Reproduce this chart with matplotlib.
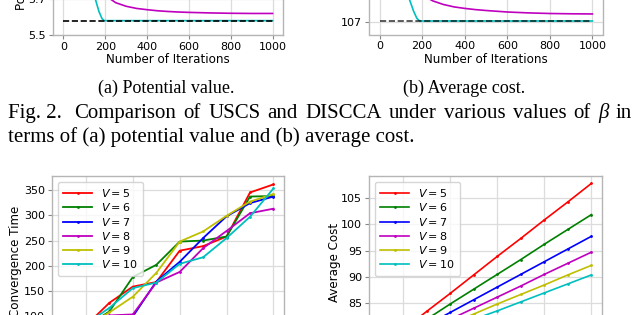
import matplotlib
matplotlib.use('Agg')
import matplotlib.pyplot as plt

W, H = 640, 315

# top row (only the bottom strip of these panels is visible)
iters_m_a = [0, 50, 100, 150, 200, 250, 300, 350, 400, 450, 500, 550, 600, 700, 800, 900, 1000]
pot_m = [6.6, 6.3, 6.05, 5.85, 5.72, 5.68, 5.66, 5.648, 5.641, 5.635, 5.631, 5.628, 5.626, 5.623, 5.621, 5.62, 5.62]
iters_c_a = [0, 100, 150, 170, 185, 195, 300, 500, 700, 1000]
pot_c = [7.5, 6.5, 5.71, 5.63, 5.59, 5.58, 5.58, 5.58, 5.58, 5.58]
pot_opt = 5.58

iters_m_b = [0, 100, 150, 200, 250, 300, 350, 400, 450, 500, 600, 700, 800, 900, 1000]
cost_m = [109.0, 108.5, 108.2, 107.9, 107.7, 107.58, 107.5, 107.45, 107.41, 107.38, 107.33, 107.3, 107.28, 107.27, 107.265]
iters_c_b = [0, 100, 140, 160, 175, 188, 300, 500, 700, 1000]
cost_c = [110.0, 108.5, 107.75, 107.35, 107.12, 107.03, 107.03, 107.03, 107.03, 107.03]
cost_opt = 107.03

# bottom row
nodes = [5, 10, 15, 20, 25, 30, 35, 40, 45, 50]
v_labels = ['$V = 5$', '$V = 6$', '$V = 7$', '$V = 8$', '$V = 9$', '$V = 10$']
v_colors = ['r', 'g', 'b', 'm', 'y', 'c']

conv_v5 = [55, 82, 127, 159, 168, 230, 239, 258, 345, 361]
conv_v6 = [55, 80, 110, 178, 202, 248, 250, 258, 337, 338]
conv_v7 = [50, 72, 90, 100, 169, 208, 255, 298, 324, 337]
conv_v8 = [50, 75, 102, 104, 167, 188, 235, 269, 304, 313]
conv_v9 = [55, 80, 108, 139, 186, 248, 268, 299, 327, 342]
conv_v10 = [60, 85, 117, 156, 167, 204, 217, 255, 297, 353]

cost_v5 = [76.6, 80.0, 83.5, 86.9, 90.4, 93.9, 97.3, 100.8, 104.2, 107.7]
cost_v6 = [76.4, 79.2, 82.0, 84.9, 87.7, 90.5, 93.3, 96.2, 99.0, 101.8]
cost_v7 = [76.1, 78.5, 80.9, 83.3, 85.7, 88.1, 90.5, 92.9, 95.3, 97.7]
cost_v8 = [75.6, 77.7, 79.8, 82.0, 84.1, 86.2, 88.3, 90.5, 92.6, 94.7]
cost_v9 = [75.6, 77.5, 79.3, 81.1, 83.0, 84.9, 86.7, 88.5, 90.4, 92.2]
cost_v10 = [75.2, 76.9, 78.6, 80.3, 82.0, 83.6, 85.3, 87.0, 88.7, 90.4]

conv_all = [conv_v5, conv_v6, conv_v7, conv_v8, conv_v9, conv_v10]
cost_all = [cost_v5, cost_v6, cost_v7, cost_v8, cost_v9, cost_v10]

fig = plt.figure(figsize=(W / 100, H / 100), dpi=100)


def px_axes(left, right, top, bottom):
    return fig.add_axes([left / W, 1 - bottom / H, (right - left) / W, (bottom - top) / H])


def style(ax):
    ax.set_facecolor('white')
    ax.grid(True, color='#dcdcdc', lw=0.9)
    ax.set_axisbelow(True)
    for s in ax.spines.values():
        s.set_color('#b5b5b5')
        s.set_linewidth(1.0)
    ax.tick_params(labelsize=8, length=3, width=0.8, color='#888888', pad=2)


def legend(ax):
    ax.legend(loc='upper left', fontsize=8, frameon=True, handlelength=2.6,
              labelspacing=0.2, borderpad=0.5, handletextpad=0.8,
              edgecolor='#cccccc', fancybox=True)


# (a) potential value
ax1 = px_axes(53, 283, -105, 35)
style(ax1)
ax1.plot(iters_m_a, pot_m, color='m', lw=1.2)
ax1.plot(iters_c_a, pot_c, color='c', lw=1.2)
ax1.plot([0, 1000], [pot_opt, pot_opt], 'k--', lw=1.2)
ax1.set_xlim(-50, 1050)
ax1.set_ylim(5.5, 6.28)
ax1.set_xticks([0, 200, 400, 600, 800, 1000])
ax1.set_yticks([5.5, 5.7, 5.9, 6.1])
ax1.set_xlabel('Number of Iterations', fontsize=8.6, labelpad=1)
fig.text(22 / W, 1 - 10 / H, 'Potential Value', rotation=90, ha='center', va='bottom', fontsize=8.6)

# (b) average cost
ax2 = px_axes(369, 603, -105, 34.5)
style(ax2)
ax2.plot(iters_m_b, cost_m, color='m', lw=1.2)
ax2.plot(iters_c_b, cost_c, color='c', lw=1.2)
ax2.plot([0, 1000], [cost_opt, cost_opt], 'k--', lw=1.2, alpha=0.75)
ax2.set_xlim(-50, 1050)
ax2.set_ylim(106.58, 111.23)
ax2.set_xticks([0, 200, 400, 600, 800, 1000])
ax2.set_yticks([107, 108, 109, 110, 111])
ax2.set_xlabel('Number of Iterations', fontsize=8.6, labelpad=1)

# bottom left: convergence time
ax3 = px_axes(52, 284, 176, 347)
style(ax3)
for vals, col, lab in zip(conv_all, v_colors, v_labels):
    ax3.plot(nodes, vals, color=col, lw=1.3, marker='.', ms=2, label=lab)
ax3.set_xlim(2.75, 52.25)
ax3.set_ylim(39.6, 377.6)
ax3.set_xticks([10, 20, 30, 40, 50])
ax3.set_yticks([50, 100, 150, 200, 250, 300, 350])
ax3.set_ylabel('Convergence Time', fontsize=8.6)
ax3.yaxis.set_label_coords(-0.13, 0.5)
legend(ax3)

# bottom right: average cost
ax4 = px_axes(369, 602, 176, 359)
style(ax4)
for vals, col, lab in zip(cost_all, v_colors, v_labels):
    ax4.plot(nodes, vals, color=col, lw=1.2, marker='.', ms=2, label=lab)
ax4.set_xlim(2.75, 52.25)
ax4.set_ylim(74.5, 109.1)
ax4.set_xticks([10, 20, 30, 40, 50])
ax4.set_yticks([75, 80, 85, 90, 95, 100, 105])
ax4.set_ylabel('Average Cost', fontsize=8.6)
ax4.yaxis.set_label_coords(-0.12, 0.53)
legend(ax4)

# captions
sub = dict(family='Liberation Serif', fontsize=13, color='black')
fig.text(166 / W, 1 - 88 / H, '(a) Potential value.', ha='center', va='center', **sub)
fig.text(464 / W, 1 - 88 / H, '(b) Average cost.', ha='center', va='center', **sub)

cap = dict(family='Liberation Serif', fontsize=15, color='black')
# first caption line is justified between x=8 and x=632
words = ['Fig. 2. ', 'Comparison', 'of', 'USCS', 'and', 'DISCCA', 'under',
         'various', 'values', 'of', 'β', 'in']
renderer = fig.canvas.get_renderer()
items = []
for w in words:
    t = fig.text(0, 0, w, style='italic' if w == 'β' else 'normal', **cap)
    items.append(t)
widths = [t.get_window_extent(renderer).width for t in items]
gap = (624 - sum(widths)) / (len(words) - 1)
x = 8
for t, w in zip(items, widths):
    t.set_position((x / W, 1 - 113 / H))
    t.set_va('center')
    x += w + gap

fig.text(8 / W, 1 - 137 / H, 'terms of (a) potential value and (b) average cost.',
         ha='left', va='center', **cap)

fig.savefig('out.png', dpi=100)
